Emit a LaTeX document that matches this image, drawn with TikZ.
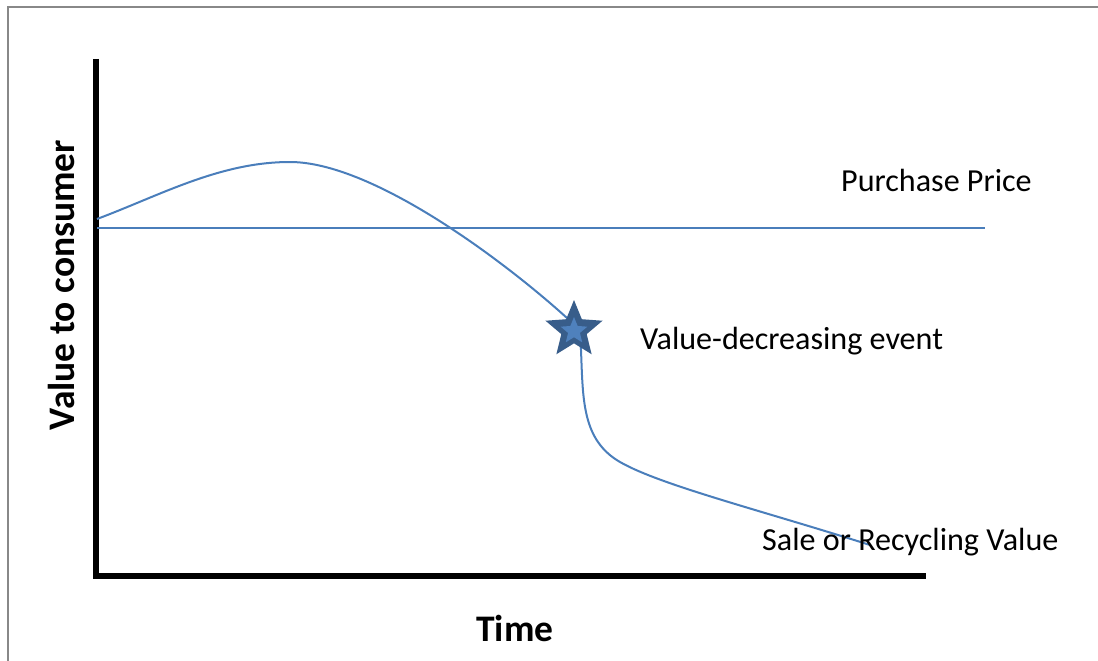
\documentclass[tikz,border=0pt]{standalone}
\usepackage{fontspec}
\setmainfont{Carlito}
\usetikzlibrary{shapes.geometric}
\definecolor{curveblue}{RGB}{74,126,187}
\definecolor{stardark}{RGB}{56,93,138}
\definecolor{starlight}{RGB}{79,129,189}
\definecolor{framegray}{RGB}{136,136,136}
\tikzset{
  lbl/.style={inner sep=0pt, font=\fontsize{32.1}{38}\selectfont, text=black},
  axlbl/.style={inner sep=0pt, font=\fontsize{37.5}{44}\selectfont\bfseries, text=black},
  axisline/.style={line width=6.3pt, black},
  bluecurve/.style={line width=2pt, curveblue},
  starshape/.style={star, star points=5, star point ratio=2.25, inner sep=0pt},
}
\begin{document}
\begin{tikzpicture}[x=1pt,y=-1pt]
\useasboundingbox (0,0) rectangle (1098,661);
% frame
\draw[framegray, line width=1.6pt] (8,661) -- (8,7) -- (1098,7);
% axes
\coordinate (ytop) at (96,59);
\coordinate (ybot) at (96,576);
\coordinate (xleft) at (96,576);
\coordinate (xright) at (926,576);
\draw[axisline] (ytop) -- ([yshift=-3pt]ybot);
\draw[axisline] (xleft) -- (xright);
% purchase price line
\coordinate (pp0) at (97,228);
\coordinate (pp1) at (985,228);
\draw[bluecurve] (pp0) -- (pp1);
% value curve
\coordinate (c0) at (97,219);
\coordinate (peak) at (290,162);
\coordinate (ev) at (567,318);
\coordinate (c3) at (581,350);
\coordinate (c4) at (620,462);
\coordinate (cend) at (870,545);
\draw[bluecurve] (c0) .. controls (161,195) and (220,162) .. (peak)
  .. controls (372,162) and (503,260) .. (ev)
  .. controls (576,328) and (580,335) .. (c3)
  .. controls (583,400) and (582,440) .. (c4)
  .. controls (660,485) and (760,510) .. (cend);
% star
\node[starshape, minimum size=60pt, fill=stardark] (star) at (574,330) {};
\node[starshape, minimum size=28pt, fill=starlight] (starin) at (574,331) {};
% labels
\node[lbl, anchor=base west] (pplbl) at (841,191) {Purchase Price};
\node[lbl, anchor=base west] (evlbl) at (640,349) {Value-decreasing event};
\node[lbl, anchor=base west] (salelbl) at (762,550) {Sale or Recycling Value};
\node[axlbl, anchor=base] (time) at (515,641) {Time};
\node[axlbl, anchor=base, rotate=90] (vtc) at (74,285) {Value to consumer};
\end{tikzpicture}
\end{document}
